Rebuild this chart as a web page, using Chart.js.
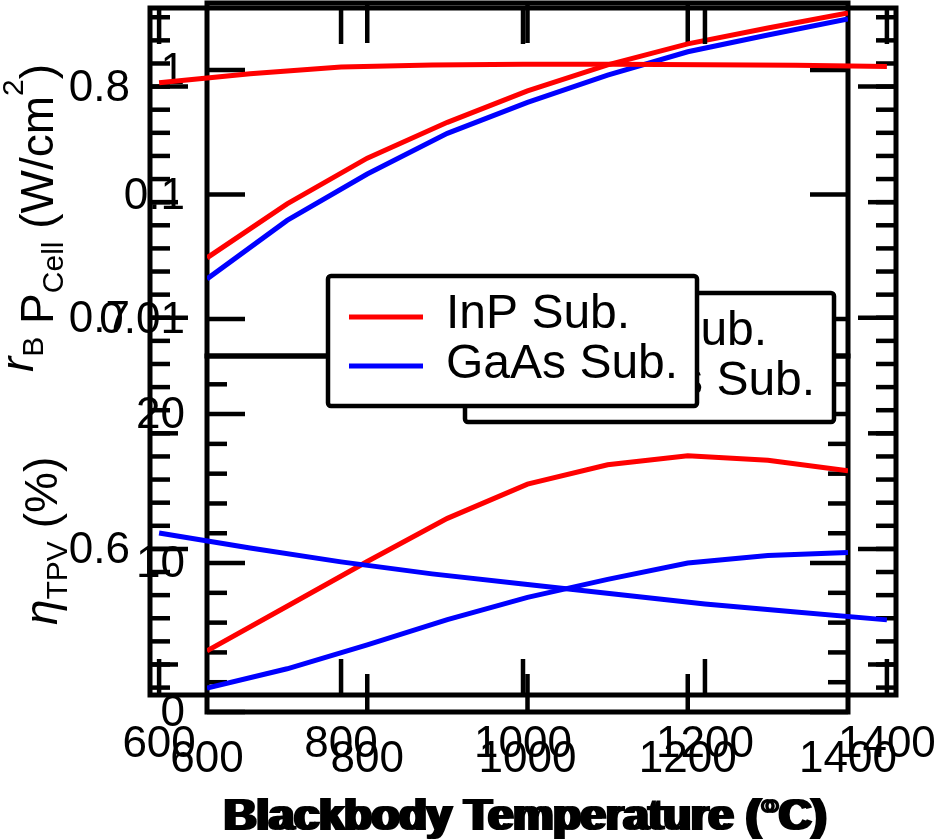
<!DOCTYPE html>
<html>
<head>
<meta charset="utf-8">
<script src="https://cdn.jsdelivr.net/npm/chart.js@4.4.0/dist/chart.umd.min.js"></script>
<style>
  html, body { margin: 0; padding: 0; background: #fff; }
  #wrap { position: relative; width: 941px; height: 840px; }
  canvas { position: absolute; left: 0; top: 0; }
</style>
</head>
<body>
<div id="wrap">
  <canvas id="cA1" width="941" height="840"></canvas>
  <canvas id="cA2" width="941" height="840"></canvas>
  <canvas id="cB" width="941" height="840"></canvas>
</div>
<script>
// data
const temps = [600, 700, 800, 900, 1000, 1100, 1200, 1300, 1400];
// figure A, top panel (log): r_B P_Cell (W/cm2)
const powerInP  = [0.031, 0.084, 0.196, 0.38, 0.68, 1.10, 1.62, 2.17, 2.87];
const powerGaAs = [0.021, 0.062, 0.146, 0.31, 0.55, 0.91, 1.40, 1.91, 2.57];
// figure A, bottom panel: eta_TPV (%)
const effInP  = [4.1, 7.1, 10.1, 13.0, 15.3, 16.6, 17.2, 16.9, 16.2];
const effGaAs = [1.6, 2.9, 4.5, 6.2, 7.7, 8.9, 10.0, 10.5, 10.7];
// figure B, drawn over the top
const ratioInP  = [0.8017, 0.8056, 0.8085, 0.8093, 0.8097, 0.8097, 0.8095, 0.8092, 0.8087];
const ratioGaAs = [0.6069, 0.6004, 0.5944, 0.5892, 0.5848, 0.5805, 0.5762, 0.5727, 0.5693];

const seriesNames = ['InP Sub.', 'GaAs Sub.'];
const seriesColors = ['#ff0000', '#0000ff'];
const xTicks = [600, 800, 1000, 1200, 1400];
const powerTicks = [0.01, 0.1, 1];
const effTicks = [0, 10, 20];
const effMinor = [2, 4, 6, 8, 12, 14, 16, 18, 22];
const ratioTicks = [0.6, 0.7, 0.8];
const ratioMid = [0.55, 0.65, 0.75];

const FONT = '"Liberation Sans", Arial, Helvetica, sans-serif';

// rotated text made of runs (for sub/superscripts)
function drawRuns(ctx, x, y, runs) {
  ctx.save();
  ctx.translate(x, y);
  ctx.rotate(-Math.PI / 2);
  ctx.textAlign = 'left';
  ctx.textBaseline = 'alphabetic';
  let pos = 0;
  runs.forEach(r => {
    ctx.font = r[1] + ' ' + FONT;
    ctx.fillText(r[0], pos, r[2]);
    pos += ctx.measureText(r[0]).width;
  });
  ctx.restore();
}

function xTitle(ctx, chart) {
  const a = chart.chartArea;
  ctx.font = 'bold 45px ' + FONT;
  ctx.textAlign = 'center';
  ctx.fillText('Blackbody Temperature (\u00B0C)', (a.left + a.right) / 2, 830);
}

// per-canvas axis setup
const ratioMinor = [];
for (let k = 54; k <= 83; k++) ratioMinor.push(k / 100);

const frames = {
  cA1: {
    yTicks: powerTicks.map(v => [v, 38]),
    xTicks: [800, 1000, 1200].map(v => [v, 40]), top: true,
    yLabels: powerTicks, yLabelX: 185,
    extra(ctx) {
      drawRuns(ctx, 53, 372, [
        ['r', 'italic 46px', -20], ['B', '30px', -10], [' P', '46px', 0],
        ['Cell', '30px', 10], [' (W/cm', '46px', 0], ['2', '30px', -30], [')', '46px', 0]
      ]);
    }
  },
  cA2: {
    yTicks: effTicks.map(v => [v, 38]).concat(effMinor.map(v => [v, 20])),
    xTicks: [800, 1000, 1200].map(v => [v, 38]), bottom: true,
    yLabels: effTicks, yLabelX: 185,
    xLabelY: 772,
    legend: { x: 465, y: 293, w: 369, h: 129 },
    extra(ctx, chart) {
      drawRuns(ctx, 57, 625, [['\u03B7', 'italic 46px', 0], ['TPV', '30px', 10], [' (%)', '46px', 0]]);
      xTitle(ctx, chart);
    }
  },
  cB: {
    yTicks: ratioMinor.map(v => [v, 20]).concat(ratioMid.map(v => [v, 28]), ratioTicks.map(v => [v, 38])),
    xTicks: xTicks.map(v => [v, 36]), top: true, bottom: true,
    yLabels: ratioTicks, yLabelX: 130,
    xLabelY: 757,
    legend: { x: 328, y: 276, w: 369, h: 130 },
    extra(ctx, chart) { xTitle(ctx, chart); }
  }
};

const framePlugin = {
  id: 'frame',
  beforeDatasetsDraw(chart) {
    const f = frames[chart.canvas.id];
    const { ctx, chartArea: a } = chart;
    const x = chart.scales.x, y = chart.scales.y;
    const seg = (x1, y1, x2, y2) => { ctx.beginPath(); ctx.moveTo(x1, y1); ctx.lineTo(x2, y2); ctx.stroke(); };
    ctx.save();
    ctx.strokeStyle = '#000';
    ctx.lineWidth = 5;
    ctx.strokeRect(a.left, a.top, a.right - a.left, a.bottom - a.top);
    ctx.lineWidth = 4.5;
    f.yTicks.forEach(([v, len]) => {
      const py = y.getPixelForValue(v);
      seg(a.left, py, a.left + len, py);
      seg(a.right, py, a.right - len, py);
    });
    f.xTicks.forEach(([v, len]) => {
      const px = x.getPixelForValue(v);
      if (f.top) seg(px, a.top, px, a.top + len);
      if (f.bottom) seg(px, a.bottom, px, a.bottom - len);
    });
    ctx.fillStyle = '#000';
    ctx.font = '44px ' + FONT;
    ctx.textAlign = 'right';
    ctx.textBaseline = 'alphabetic';
    f.yLabels.forEach(v => ctx.fillText(String(v), f.yLabelX, y.getPixelForValue(v) + 14));
    if (f.xLabelY) {
      ctx.textAlign = 'center';
      xTicks.forEach(v => ctx.fillText(String(v), x.getPixelForValue(v), f.xLabelY));
    }
    if (f.extra) f.extra(ctx, chart);
    ctx.restore();
  },
  afterDatasetsDraw(chart) {
    const L = frames[chart.canvas.id].legend;
    if (!L) return;
    const ctx = chart.ctx;
    ctx.save();
    ctx.fillStyle = '#fff';
    ctx.strokeStyle = '#000';
    ctx.lineWidth = 4.5;
    ctx.beginPath();
    ctx.roundRect(L.x, L.y, L.w, L.h, 3);
    ctx.fill();
    ctx.stroke();
    ctx.font = '48px ' + FONT;
    ctx.textAlign = 'left';
    ctx.textBaseline = 'alphabetic';
    chart.data.datasets.forEach((ds, i) => {
      const ly = L.y + 41 + i * 49;
      ctx.strokeStyle = ds.borderColor;
      ctx.lineWidth = 5;
      ctx.beginPath();
      ctx.moveTo(L.x + 21, ly);
      ctx.lineTo(L.x + 95, ly);
      ctx.stroke();
      ctx.fillStyle = '#000';
      ctx.fillText(ds.label, L.x + 118, L.y + 52 + i * 50);
    });
    ctx.restore();
  }
};

function makeChart(id, pad, xMin, xMax, yType, yMin, yMax, series) {
  return new Chart(document.getElementById(id), {
    type: 'line',
    data: {
      datasets: series.map((s, i) => ({
        label: seriesNames[i],
        data: temps.map((t, j) => ({ x: t, y: s[j] })),
        borderColor: seriesColors[i],
        borderWidth: 5,
        pointRadius: 0,
        tension: 0,
        fill: false
      }))
    },
    options: {
      responsive: false,
      animation: false,
      devicePixelRatio: 1,
      layout: { padding: pad },
      plugins: { legend: { display: false }, tooltip: { enabled: false } },
      scales: {
        x: { type: 'linear', min: xMin, max: xMax, display: false },
        y: { type: yType, min: yMin, max: yMax, display: false }
      }
    },
    plugins: [framePlugin]
  });
}

makeChart('cA1', { left: 207, right: 93, top: 3, bottom: 484 }, 600, 1400, 'logarithmic', 0.00505, 3.45, [powerInP, powerGaAs]);
makeChart('cA2', { left: 207, right: 93, top: 356, bottom: 128 }, 600, 1400, 'linear', 0, 23.9, [effInP, effGaAs]);
makeChart('cB', { left: 150, right: 45, top: 8, bottom: 145 }, 590, 1410, 'linear', 0.5368, 0.834, [ratioInP, ratioGaAs]);
</script>
</body>
</html>
